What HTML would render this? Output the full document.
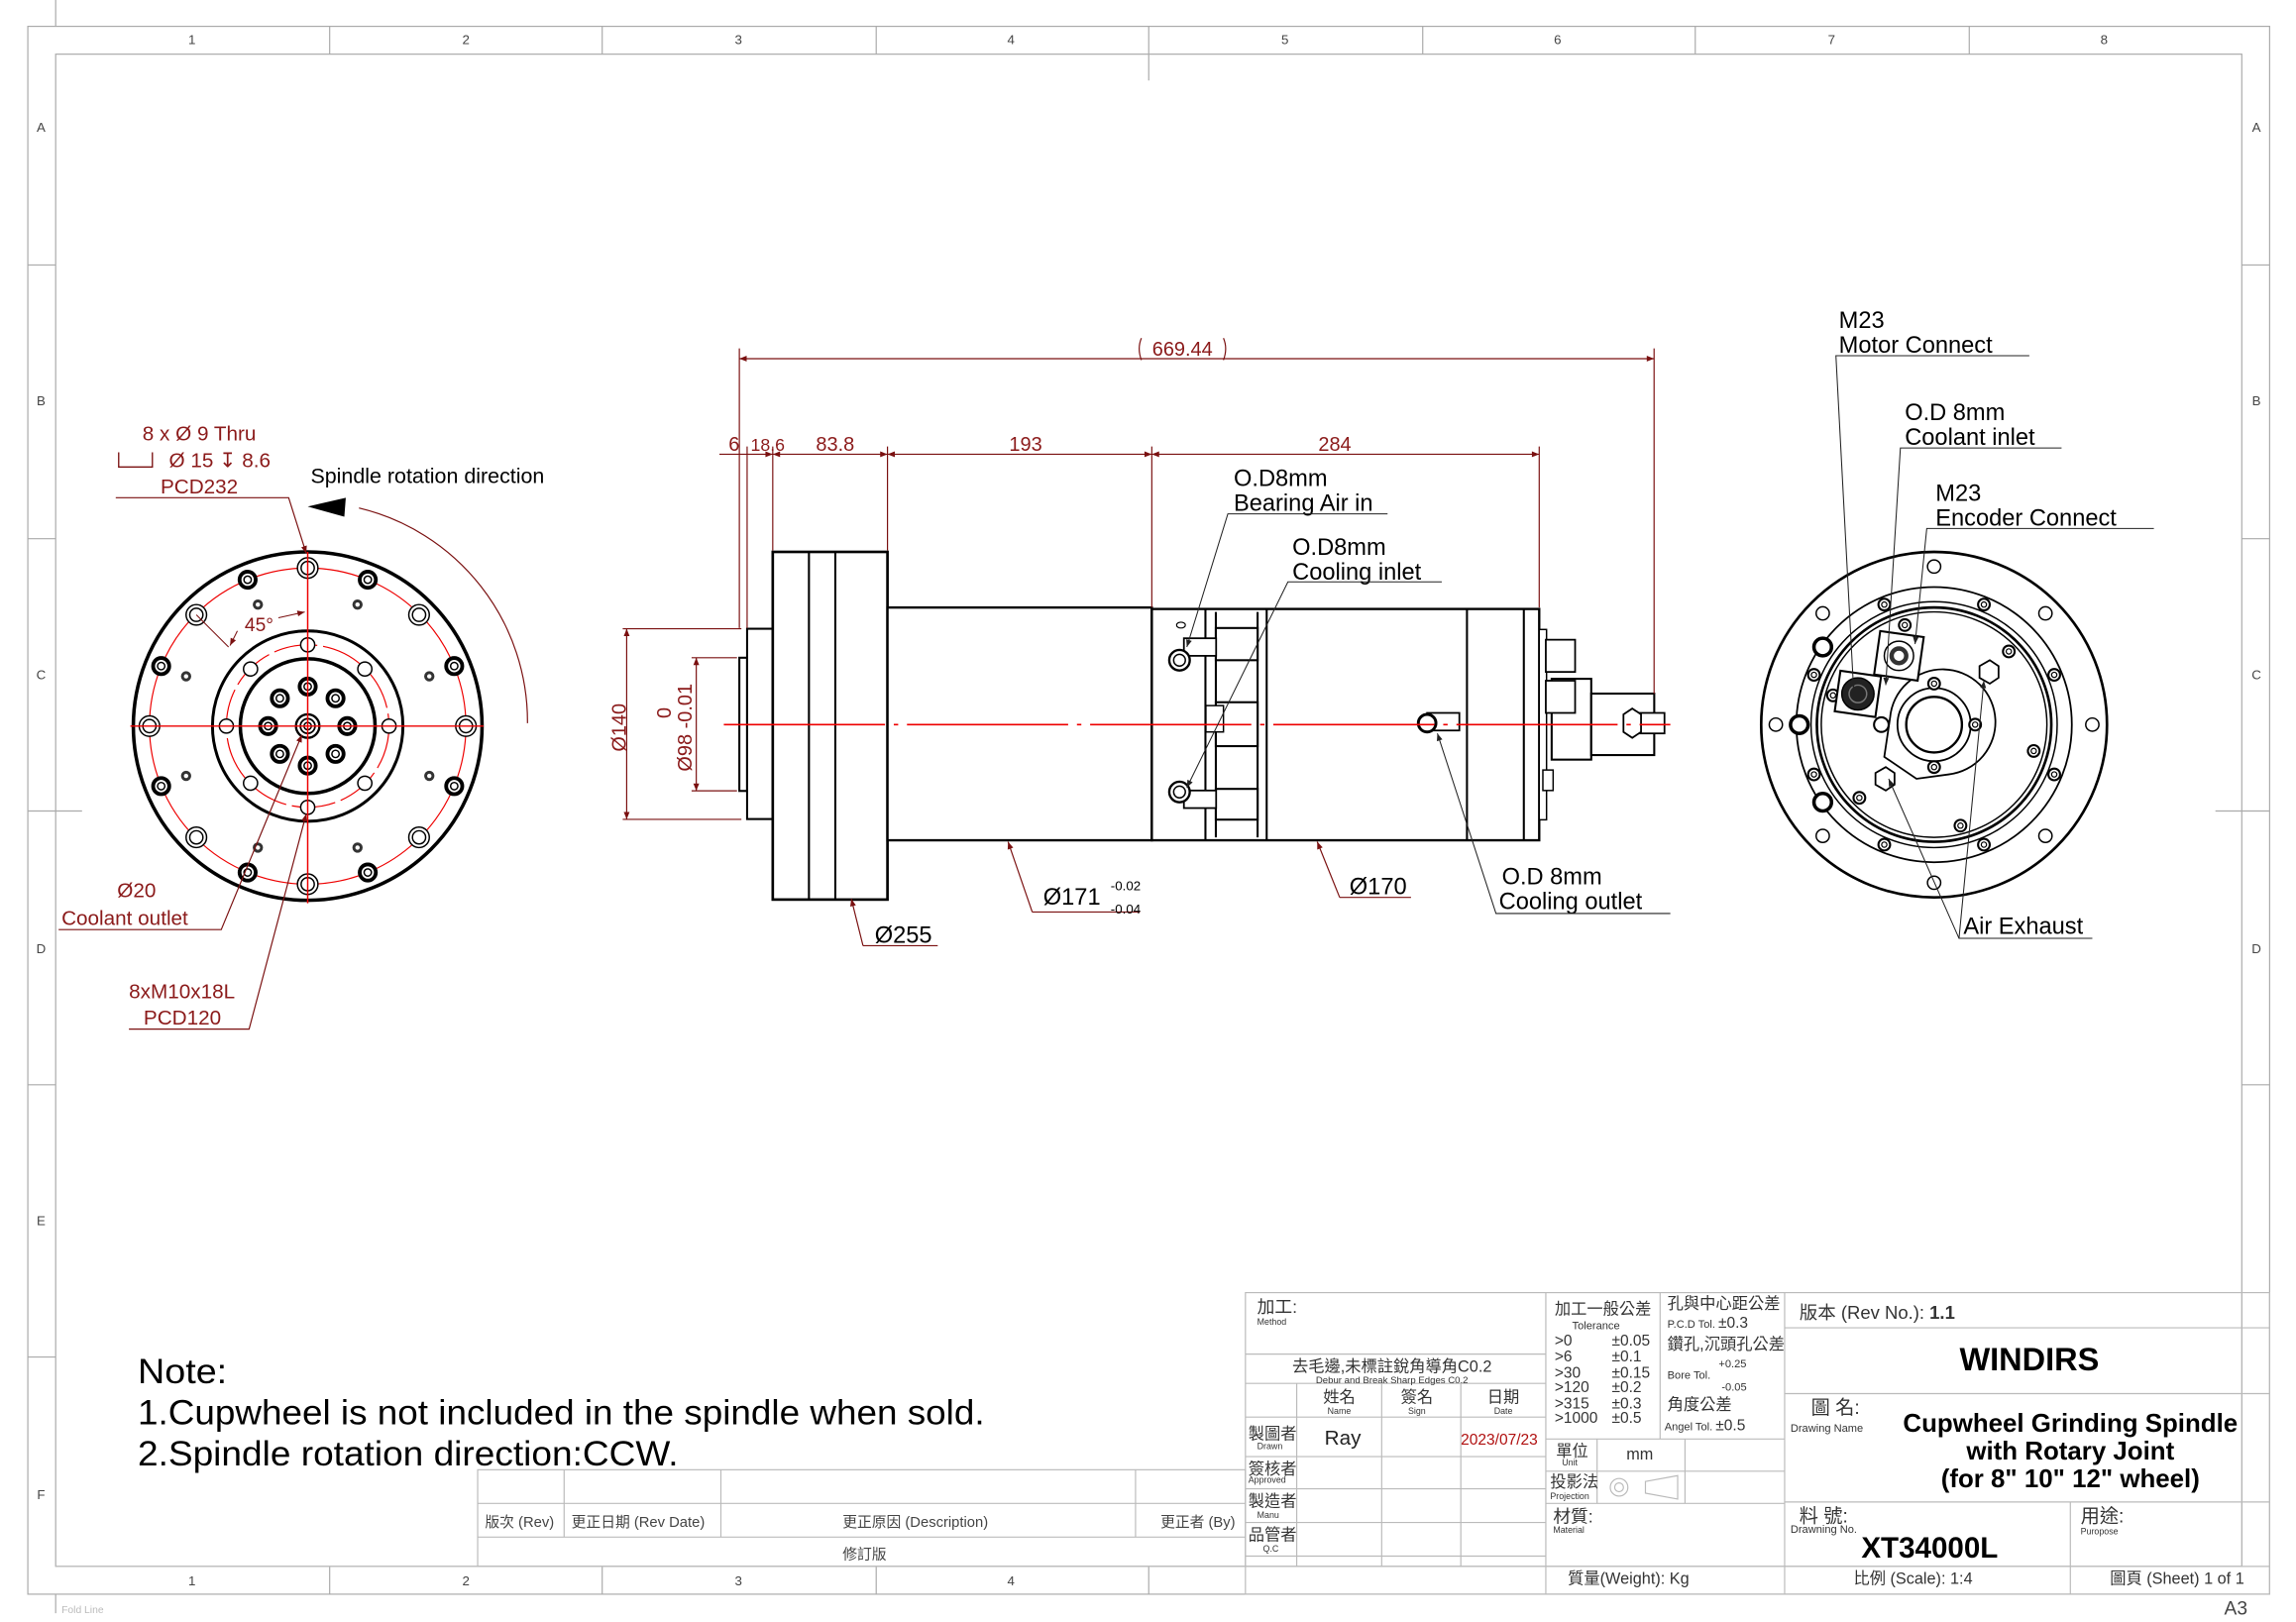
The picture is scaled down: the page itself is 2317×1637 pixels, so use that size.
<!DOCTYPE html>
<html><head><meta charset="utf-8"><style>
html,body{margin:0;padding:0;background:#fff;}
svg{display:block;}
text{font-family:"Liberation Sans","Noto Sans CJK TC",sans-serif;}
.r{fill:#8b1a1a;}
.g{stroke:#aaa;fill:none;stroke-width:.8}
</style></head><body>
<svg width="2317" height="1637" viewBox="0 0 1567 1108" preserveAspectRatio="none" xmlns="http://www.w3.org/2000/svg">
<defs>
<marker id="ar" viewBox="0 0 10 10" refX="10" refY="5" markerWidth="7" markerHeight="5" orient="auto-start-reverse" markerUnits="userSpaceOnUse"><path d="M0,1 L10,5 L0,9z" fill="#7a1010"/></marker>
<marker id="ak" viewBox="0 0 10 10" refX="10" refY="5" markerWidth="7" markerHeight="5" orient="auto" markerUnits="userSpaceOnUse"><path d="M0,1 L10,5 L0,9z" fill="#222"/></marker>
<g id="dh"><circle r="7" fill="#fff" stroke="#000" stroke-width="1"/><circle r="4.5" fill="none" stroke="#000" stroke-width="1"/></g>
<g id="th"><circle r="5.5" fill="#fff" stroke="#000" stroke-width="2.6"/><circle r="2.5" fill="none" stroke="#000" stroke-width="1"/></g>
<g id="sd"><circle r="3.5" fill="#333"/><circle r="1.5" fill="#fff"/></g>
<g id="sh"><circle r="4.8" fill="#fff" stroke="#000" stroke-width="1"/></g>
<g id="bb"><circle r="4" fill="#fff" stroke="#000" stroke-width="1.4"/><circle r="1.8" fill="none" stroke="#000" stroke-width=".8"/></g>
</defs>

<rect x="19" y="18" width="1530" height="1071" class="g"/>
<rect x="38" y="37" width="1492" height="1033" class="g"/>
<line x1="38" y1="0" x2="38" y2="18" class="g"/><line x1="38" y1="1089" x2="38" y2="1102" class="g"/>
<g class="g">
<line x1="225" y1="18" x2="225" y2="37"/><line x1="411" y1="18" x2="411" y2="37"/><line x1="598" y1="18" x2="598" y2="37"/><line x1="784" y1="18" x2="784" y2="55"/><line x1="971" y1="18" x2="971" y2="37"/><line x1="1157" y1="18" x2="1157" y2="37"/><line x1="1344" y1="18" x2="1344" y2="37"/>
<line x1="225" y1="1070" x2="225" y2="1089"/><line x1="411" y1="1070" x2="411" y2="1089"/><line x1="598" y1="1070" x2="598" y2="1089"/><line x1="784" y1="1070" x2="784" y2="1089"/>
<line x1="19" y1="181" x2="38" y2="181"/><line x1="19" y1="368" x2="38" y2="368"/><line x1="19" y1="554" x2="56" y2="554"/><line x1="19" y1="741" x2="38" y2="741"/><line x1="19" y1="927" x2="38" y2="927"/>
<line x1="1530" y1="181" x2="1549" y2="181"/><line x1="1530" y1="368" x2="1549" y2="368"/><line x1="1512" y1="554" x2="1549" y2="554"/><line x1="1530" y1="741" x2="1549" y2="741"/>
</g>
<g font-size="9" fill="#444" text-anchor="middle">
<text x="131" y="30">1</text><text x="318" y="30">2</text><text x="504" y="30">3</text><text x="690" y="30">4</text><text x="877" y="30">5</text><text x="1063" y="30">6</text><text x="1250" y="30">7</text><text x="1436" y="30">8</text>
<text x="131" y="1083">1</text><text x="318" y="1083">2</text><text x="504" y="1083">3</text><text x="690" y="1083">4</text>
<text x="28" y="90">A</text><text x="28" y="277">B</text><text x="28" y="464">C</text><text x="28" y="651">D</text><text x="28" y="837">E</text><text x="28" y="1024">F</text>
<text x="1540" y="90">A</text><text x="1540" y="277">B</text><text x="1540" y="464">C</text><text x="1540" y="651">D</text>
</g>
<text x="42" y="1102" font-size="7" fill="#bbb">Fold Line</text>
<text x="1518" y="1103" font-size="13" fill="#444">A3</text>

<g transform="translate(210,496)">
<circle r="119" fill="none" stroke="#000" stroke-width="2.4"/>
<circle r="108" fill="none" stroke="#e00" stroke-width=".8"/>
<circle r="65" fill="none" stroke="#000" stroke-width="2"/>
<circle r="55.5" fill="none" stroke="#e00" stroke-width=".8" stroke-dasharray="30 4"/>
<circle r="46" fill="none" stroke="#000" stroke-width="2.4"/>
<use href="#dh" x="108" y="0"/><use href="#dh" x="-108" y="0"/><use href="#dh" x="0" y="-108"/><use href="#dh" x="0" y="108"/>
<use href="#dh" x="76" y="-76"/><use href="#dh" x="-76" y="-76"/><use href="#dh" x="76" y="76"/><use href="#dh" x="-76" y="76"/>
<use href="#th" x="41" y="-100"/><use href="#th" x="-41" y="-100"/><use href="#th" x="41" y="100"/><use href="#th" x="-41" y="100"/>
<use href="#th" x="100" y="-41"/><use href="#th" x="-100" y="-41"/><use href="#th" x="100" y="41"/><use href="#th" x="-100" y="41"/>
<use href="#sd" x="83" y="-34"/><use href="#sd" x="-83" y="-34"/><use href="#sd" x="83" y="34"/><use href="#sd" x="-83" y="34"/>
<use href="#sd" x="34" y="-83"/><use href="#sd" x="-34" y="-83"/><use href="#sd" x="34" y="83"/><use href="#sd" x="-34" y="83"/>
<use href="#sh" x="55.5" y="0"/><use href="#sh" x="-55.5" y="0"/><use href="#sh" x="0" y="55.5"/><use href="#sh" x="0" y="-55.5"/>
<use href="#sh" x="39" y="39"/><use href="#sh" x="-39" y="39"/><use href="#sh" x="39" y="-39"/><use href="#sh" x="-39" y="-39"/>
<use href="#th" x="27" y="0"/><use href="#th" x="-27" y="0"/><use href="#th" x="0" y="27"/><use href="#th" x="0" y="-27"/>
<use href="#th" x="19" y="19"/><use href="#th" x="-19" y="19"/><use href="#th" x="19" y="-19"/><use href="#th" x="-19" y="-19"/>
<circle r="8" fill="#fff" stroke="#000" stroke-width="1.6"/><circle r="5" fill="none" stroke="#000" stroke-width="1.2"/><circle r="2.5" fill="none" stroke="#000"/>
<line x1="-121" y1="0" x2="120" y2="0" stroke="#e00" stroke-width="1"/>
<line x1="0" y1="-119" x2="0" y2="121" stroke="#e00" stroke-width="1"/>
<line x1="-76" y1="-76" x2="-54" y2="-54" stroke="#7a1010" stroke-width=".7"/>
</g>
<text x="167" y="431" class="r" font-size="13">45°</text>
<path d="M190,422 L208,418" stroke="#7a1010" stroke-width=".7" fill="none" marker-end="url(#ar)"/>
<path d="M162,431 L157,441" stroke="#7a1010" stroke-width=".7" fill="none" marker-end="url(#ar)"/>
<path d="M245,347 A150 150 0 0 1 360,494" fill="none" stroke="#7a1010" stroke-width=".8"/>
<path d="M210,346 L236,340 L235,353z" fill="#000"/>
<text x="212" y="330" font-size="14.5" fill="#000">Spindle rotation direction</text>
<g class="r" font-size="14" text-anchor="middle">
<text x="136" y="301">8 x  Ø 9 Thru</text>
<text x="150" y="319">Ø 15 ↧ 8.6</text>
<text x="136" y="337">PCD232</text>
</g>
<path d="M81,309 V319 H104 V309" fill="none" stroke="#7a1010" stroke-width=".9"/>
<path d="M79,340 H197 L209,378" fill="none" stroke="#7a1010" stroke-width=".8" marker-end="url(#ar)"/>
<text x="80" y="613" class="r" font-size="14">Ø20</text>
<text x="42" y="632" class="r" font-size="14">Coolant outlet</text>
<path d="M40,635 H151 L206,502" fill="none" stroke="#7a1010" stroke-width=".8" marker-end="url(#ar)"/>
<text x="88" y="682" class="r" font-size="14">8xM10x18L</text>
<text x="98" y="700" class="r" font-size="14">PCD120</text>
<path d="M88,703 H170 L209,556" fill="none" stroke="#7a1010" stroke-width=".8" marker-end="url(#ar)"/>

<g stroke="#000" fill="#fff" stroke-width="1.4">
<rect x="504.6" y="449.3" width="5.3" height="91"/>
<rect x="509.9" y="429.5" width="17.5" height="130"/>
<rect x="527.4" y="377" width="78.3" height="237.5" stroke-width="1.8"/>
<line x1="552.1" y1="377" x2="552.1" y2="614.5"/><line x1="570.1" y1="377" x2="570.1" y2="614.5"/>
<rect x="605.7" y="415" width="180.4" height="159" stroke-width="1.6"/>
<rect x="786.1" y="416" width="264.4" height="158" stroke-width="1.6"/>
<line x1="822.7" y1="416" x2="822.7" y2="574"/><line x1="829.8" y1="418" x2="829.8" y2="572"/>
<line x1="858.3" y1="418" x2="858.3" y2="572"/><line x1="864.5" y1="416" x2="864.5" y2="574"/>
<line x1="1001.2" y1="416" x2="1001.2" y2="574"/><line x1="1040" y1="416" x2="1040" y2="574"/>
<rect x="829.8" y="429" width="28.5" height="22"/><rect x="829.8" y="479.7" width="28.5" height="30"/><rect x="829.8" y="538.9" width="28.5" height="21"/>
<rect x="1050.5" y="430" width="5" height="130" stroke-width="1"/>
<rect x="1059" y="463.7" width="27" height="55.2"/>
<rect x="1086" y="473.8" width="43" height="42"/>
<rect x="1055" y="437" width="20" height="22" stroke-width="1.2"/><rect x="1055" y="465" width="20" height="22" stroke-width="1.2"/>
<rect x="1053" y="526" width="7" height="14" stroke-width="1"/>
<rect x="1118" y="487" width="18" height="14" stroke-width="1.2"/>
<path d="M1108,488 L1114,484 L1120,488 L1120,500 L1114,504 L1108,500z" stroke-width="1.2"/>
<rect x="823" y="482" width="12" height="18" stroke-width="1"/>
<rect x="974" y="487" width="22" height="12" stroke-width="1.2"/><circle cx="974" cy="494" r="6" stroke-width="2"/>
<rect x="808" y="436" width="22" height="12" stroke-width="1.2"/><circle cx="805" cy="451" r="7" stroke-width="1.6"/><circle cx="805" cy="451" r="4" stroke-width="1"/>
<rect x="808" y="540" width="22" height="12" stroke-width="1.2"/><circle cx="805" cy="541" r="7" stroke-width="1.6"/><circle cx="805" cy="541" r="4" stroke-width="1"/>
</g>
<ellipse cx="806" cy="427" rx="3" ry="2" fill="none" stroke="#000" stroke-width=".8"/>
<line x1="494" y1="495" x2="1140" y2="495" stroke="#e00" stroke-width="1.1" stroke-dasharray="110 6 3 6"/>
<g stroke="#7a1010" stroke-width=".8" fill="none">
<line x1="504.6" y1="238" x2="504.6" y2="429"/><line x1="509.9" y1="305" x2="509.9" y2="429"/><line x1="527.4" y1="305" x2="527.4" y2="376"/>
<line x1="605.7" y1="305" x2="605.7" y2="376"/><line x1="786.1" y1="305" x2="786.1" y2="415"/><line x1="1050.5" y1="305" x2="1050.5" y2="415"/>
<line x1="1128.9" y1="238" x2="1128.9" y2="474"/>
<line x1="504.6" y1="245" x2="1128.9" y2="245" marker-start="url(#ar)" marker-end="url(#ar)"/>
<line x1="491" y1="310.3" x2="509.9" y2="310.3"/>
<line x1="509.9" y1="310.3" x2="527.4" y2="310.3" marker-end="url(#ar)"/>
<line x1="527.4" y1="310.3" x2="605.7" y2="310.3" marker-start="url(#ar)" marker-end="url(#ar)"/>
<line x1="605.7" y1="310.3" x2="786.1" y2="310.3" marker-start="url(#ar)" marker-end="url(#ar)"/>
<line x1="786.1" y1="310.3" x2="1050.5" y2="310.3" marker-start="url(#ar)" marker-end="url(#ar)"/>
<line x1="427.7" y1="429.5" x2="427.7" y2="559.7" marker-start="url(#ar)" marker-end="url(#ar)"/>
<line x1="425" y1="429.5" x2="506" y2="429.5"/><line x1="425" y1="559.7" x2="506" y2="559.7"/>
<line x1="475.2" y1="449.3" x2="475.2" y2="540.2" marker-start="url(#ar)" marker-end="url(#ar)"/>
<line x1="472" y1="449.3" x2="503" y2="449.3"/><line x1="472" y1="540.2" x2="503" y2="540.2"/>
<path d="M704.5,623 L688,575" marker-end="url(#ar)"/><line x1="704.5" y1="623" x2="778" y2="623"/>
<path d="M914.3,613 L899,575" marker-end="url(#ar)"/><line x1="914.3" y1="613" x2="963" y2="613"/>
<path d="M589,646 L581,614" marker-end="url(#ar)"/><line x1="589" y1="646" x2="640" y2="646"/>
</g>
<path d="M779,231 Q776,238 779,246 M835,231 Q838,238 835,246" fill="none" stroke="#7a1010" stroke-width=".8"/>
<g class="r" font-size="13.5" text-anchor="middle">
<text x="807" y="243">669.44</text>
<text x="501" y="308">6</text><text x="524" y="308" font-size="12">18.6</text><text x="570" y="308">83.8</text><text x="700" y="308">193</text><text x="911" y="308">284</text>
<text transform="translate(427,497) rotate(-90)">Ø140</text>
<text transform="translate(472,497) rotate(-90)">Ø98 -0.01</text>
<text transform="translate(458,487) rotate(-90)">0</text>
</g>
<g fill="#000" font-size="16">
<text x="712" y="618">Ø171</text><text x="758" y="608" font-size="9">-0.02</text><text x="758" y="624" font-size="9">-0.04</text>
<text x="921" y="611">Ø170</text>
<text x="597" y="644">Ø255</text>
<text x="842" y="332">O.D8mm</text><text x="842" y="349">Bearing Air in</text>
<text x="882" y="379">O.D8mm</text><text x="882" y="396">Cooling inlet</text>
<text x="1025" y="604">O.D 8mm</text><text x="1023" y="621">Cooling outlet</text>
</g>
<g stroke="#222" stroke-width=".7" fill="none">
<path d="M947,351 H838 L810,442" marker-end="url(#ak)"/>
<path d="M984,397.5 H879 L810,538" marker-end="url(#ak)"/>
<path d="M1140,624 H1021 L981,501" marker-end="url(#ak)"/>
</g>

<g transform="translate(1320,495)">
<circle r="118" fill="none" stroke="#000" stroke-width="1.8"/>
<circle r="94" fill="none" stroke="#000" stroke-width="1.2"/>
<circle r="84" fill="none" stroke="#000" stroke-width="1"/>
<circle r="80" fill="none" stroke="#000" stroke-width="1.8"/>
<circle r="77" fill="none" stroke="#000" stroke-width="1"/>
<circle cx="0" cy="-108" r="4.5" fill="#fff" stroke="#000"/><circle cx="0" cy="108" r="4.5" fill="#fff" stroke="#000"/>
<circle cx="108" cy="0" r="4.5" fill="#fff" stroke="#000"/><circle cx="-108" cy="0" r="4.5" fill="#fff" stroke="#000"/>
<circle cx="76" cy="-76" r="4.5" fill="#fff" stroke="#000"/><circle cx="-76" cy="-76" r="4.5" fill="#fff" stroke="#000"/>
<circle cx="76" cy="76" r="4.5" fill="#fff" stroke="#000"/><circle cx="-76" cy="76" r="4.5" fill="#fff" stroke="#000"/>
<use href="#bb" x="-34" y="-82"/><use href="#bb" x="34" y="-82"/><use href="#bb" x="82" y="-34"/><use href="#bb" x="82" y="34"/>
<use href="#bb" x="-82" y="-34"/><use href="#bb" x="-82" y="34"/><use href="#bb" x="-34" y="82"/><use href="#bb" x="34" y="82"/>
<use href="#bb" x="-20" y="-68"/><use href="#bb" x="51" y="-50"/><use href="#bb" x="68" y="18"/><use href="#bb" x="18" y="69"/><use href="#bb" x="-51" y="50"/><use href="#bb" x="-69" y="-20"/>
<path d="M-30,-5 A36 36 0 1 1 10,34 L-12,37 L-34,22 Z" fill="#fff" stroke="#000" stroke-width="1.2"/>
<circle r="25" fill="none" stroke="#000" stroke-width="1.2"/>
<circle r="19" fill="#fff" stroke="#000" stroke-width="1.6"/>
<use href="#bb" x="0" y="-28"/><use href="#bb" x="0" y="29"/><use href="#bb" x="28" y="0"/>
<circle cx="-36" cy="0" r="5" fill="#fff" stroke="#000" stroke-width="1.4"/>
<rect x="-39" y="-62" width="30" height="30" fill="#fff" stroke="#000" stroke-width="1.4" transform="rotate(8 -24 -47)"/>
<circle cx="-24" cy="-47" r="10" fill="#fff" stroke="#000" stroke-width="1"/><circle cx="-24" cy="-47" r="5" fill="none" stroke="#333" stroke-width="3"/>
<rect x="-66" y="-35" width="28" height="28" fill="#fff" stroke="#000" stroke-width="1.4" transform="rotate(8 -52 -21)"/>
<circle cx="-52" cy="-21" r="11" fill="#222" stroke="#000"/><circle cx="-52" cy="-21" r="6" fill="none" stroke="#777" stroke-width="1"/>
<path d="M31,-40 L38,-44 L44,-40 L44,-32 L38,-28 L31,-32z" fill="#fff" stroke="#000" stroke-width="1.2"/>
<path d="M-40,33 L-33,29 L-27,33 L-27,41 L-33,45 L-40,41z" fill="#fff" stroke="#000" stroke-width="1.2"/>
<circle cx="-76" cy="-53" r="6" fill="#fff" stroke="#000" stroke-width="2.4"/><circle cx="-92" cy="0" r="6" fill="#fff" stroke="#000" stroke-width="2.4"/><circle cx="-76" cy="53" r="6" fill="#fff" stroke="#000" stroke-width="2.4"/>
</g>
<g fill="#000" font-size="16">
<text x="1255" y="224">M23</text><text x="1255" y="241">Motor Connect</text>
<text x="1300" y="287">O.D 8mm</text><text x="1300" y="304">Coolant inlet</text>
<text x="1321" y="342">M23</text><text x="1321" y="359">Encoder Connect</text>
<text x="1340" y="638">Air Exhaust</text>
</g>
<g stroke="#222" stroke-width=".7" fill="none">
<path d="M1385,243 H1253 L1265,470" marker-end="url(#ak)"/>
<path d="M1407,306 H1297 L1287,468" marker-end="url(#ak)"/>
<path d="M1470,361 H1315 L1307,440" marker-end="url(#ak)"/>
<path d="M1428,641 H1337 L1289,532" marker-end="url(#ak)"/>
<path d="M1337,641 L1354,465" marker-end="url(#ak)"/>
</g>

<g fill="#000" font-size="24">
<text x="94" y="945" textLength="61" lengthAdjust="spacingAndGlyphs">Note:</text>
<text x="94" y="973" textLength="578" lengthAdjust="spacingAndGlyphs">1.Cupwheel is not included in the spindle when sold.</text>
<text x="94" y="1001" textLength="369" lengthAdjust="spacingAndGlyphs">2.Spindle rotation direction:CCW.</text>
</g>

<g stroke="#bbb" stroke-width=".8" fill="none">
<rect x="326" y="1004" width="524" height="66"/>
<line x1="326" y1="1027" x2="850" y2="1027"/><line x1="326" y1="1050" x2="850" y2="1050"/>
<line x1="385" y1="1004" x2="385" y2="1050"/><line x1="492" y1="1004" x2="492" y2="1050"/><line x1="775" y1="1004" x2="775" y2="1050"/>
</g>
<g fill="#444" font-size="10">
<text x="331" y="1043">版次 (Rev)</text><text x="390" y="1043">更正日期 (Rev Date)</text><text x="575" y="1043">更正原因 (Description)</text><text x="792" y="1043">更正者 (By)</text>
<text x="575" y="1065">修訂版</text>
</g>

<g stroke="#bbb" stroke-width=".8" fill="none">
<rect x="850" y="883" width="699" height="206"/>
<line x1="850" y1="925" x2="1055" y2="925"/><line x1="850" y1="945" x2="1055" y2="945"/><line x1="850" y1="968" x2="1055" y2="968"/>
<line x1="850" y1="995" x2="1055" y2="995"/><line x1="850" y1="1017" x2="1055" y2="1017"/><line x1="850" y1="1040" x2="1055" y2="1040"/><line x1="850" y1="1063" x2="1055" y2="1063"/>
<line x1="885" y1="945" x2="885" y2="1070"/><line x1="943" y1="945" x2="943" y2="1070"/><line x1="997" y1="945" x2="997" y2="1070"/>
<line x1="1055" y1="883" x2="1055" y2="1089"/><line x1="1133" y1="883" x2="1133" y2="983"/><line x1="1218" y1="883" x2="1218" y2="1089"/>
<line x1="1055" y1="983" x2="1218" y2="983"/><line x1="1055" y1="1005" x2="1218" y2="1005"/><line x1="1055" y1="1027" x2="1218" y2="1027"/>
<line x1="1090" y1="983" x2="1090" y2="1027"/><line x1="1150" y1="983" x2="1150" y2="1027"/>
<line x1="1218" y1="907" x2="1549" y2="907"/><line x1="1218" y1="952" x2="1549" y2="952"/><line x1="1218" y1="1026" x2="1549" y2="1026"/>
<line x1="1413" y1="1026" x2="1413" y2="1089"/><line x1="38" y1="1070" x2="1549" y2="1070"/>
<circle cx="1105" cy="1016" r="6"/><circle cx="1105" cy="1016" r="3"/><path d="M1123,1012 L1145,1008 L1145,1024 L1123,1020z"/>
</g>
<g fill="#333" font-size="11">
<text x="858" y="897" font-size="12">加工:</text><text x="858" y="905" font-size="6">Method</text>
<text x="950" y="937" text-anchor="middle">去毛邊,未標註銳角導角C0.2</text><text x="950" y="945" text-anchor="middle" font-size="6.5">Debur and Break Sharp Edges C0.2</text>
<text x="914" y="958" text-anchor="middle">姓名</text><text x="914" y="966" text-anchor="middle" font-size="6">Name</text>
<text x="967" y="958" text-anchor="middle">簽名</text><text x="967" y="966" text-anchor="middle" font-size="6">Sign</text>
<text x="1026" y="958" text-anchor="middle">日期</text><text x="1026" y="966" text-anchor="middle" font-size="6">Date</text>
<text x="852" y="983">製圖者</text><text x="858" y="990" font-size="6">Drawn</text>
<text x="904" y="987" font-size="14" fill="#222">Ray</text><text x="997" y="987" font-size="10.5" fill="#b01010">2023/07/23</text>
<text x="852" y="1007">簽核者</text><text x="852" y="1013" font-size="6">Approved</text>
<text x="852" y="1029">製造者</text><text x="858" y="1037" font-size="6">Manu</text>
<text x="852" y="1052">品管者</text><text x="862" y="1060" font-size="6">Q.C</text>
<text x="1061" y="898">加工一般公差</text><text x="1073" y="908" font-size="7.5">Tolerance</text>
<g font-size="10.5"><text x="1061" y="919">&gt;0</text><text x="1100" y="919">±0.05</text>
<text x="1061" y="930">&gt;6</text><text x="1100" y="930">±0.1</text>
<text x="1061" y="941">&gt;30</text><text x="1100" y="941">±0.15</text>
<text x="1061" y="951">&gt;120</text><text x="1100" y="951">±0.2</text>
<text x="1061" y="962">&gt;315</text><text x="1100" y="962">±0.3</text>
<text x="1061" y="972">&gt;1000</text><text x="1100" y="972">±0.5</text></g>
<text x="1138" y="894">孔與中心距公差</text><text x="1138" y="907" font-size="7.5">P.C.D Tol. <tspan font-size="10.5">±0.3</tspan></text>
<text x="1138" y="922">鑽孔,沉頭孔公差</text><text x="1173" y="934" font-size="7.5">+0.25</text><text x="1138" y="942" font-size="7.5">Bore Tol.</text><text x="1175" y="950" font-size="7.5">-0.05</text>
<text x="1138" y="963">角度公差</text><text x="1136" y="977" font-size="7.5">Angel Tol. <tspan font-size="10.5">±0.5</tspan></text>
<text x="1062" y="995">單位</text><text x="1066" y="1001" font-size="6">Unit</text><text x="1110" y="997">mm</text>
<text x="1058" y="1016">投影法</text><text x="1058" y="1024" font-size="6">Projection</text>
<text x="1060" y="1040" font-size="12">材質:</text><text x="1060" y="1047" font-size="6">Material</text>
<text x="1228" y="901" font-size="12.5">版本 (Rev No.): <tspan font-weight="bold">1.1</tspan></text>
<text x="1385" y="936" font-size="22" font-weight="bold" fill="#000" text-anchor="middle">WINDIRS</text>
<text x="1236" y="966" font-size="13">圖 名:</text><text x="1222" y="978" font-size="7.5">Drawing Name</text>
<g font-size="17.5" font-weight="bold" fill="#000" text-anchor="middle"><text x="1413" y="978">Cupwheel Grinding Spindle</text><text x="1413" y="997">with Rotary Joint</text><text x="1413" y="1016">(for 8" 10" 12" wheel)</text></g>
<text x="1228" y="1040" font-size="13">料 號:</text><text x="1222" y="1047" font-size="7.5">Drawning No.</text>
<text x="1317" y="1064" font-size="20" font-weight="bold" fill="#000" text-anchor="middle">XT34000L</text>
<text x="1420" y="1040" font-size="13">用途:</text><text x="1420" y="1048" font-size="6">Puropose</text>
<text x="1070" y="1082">質量(Weight):  Kg</text><text x="1265" y="1082">比例 (Scale): 1:4</text><text x="1440" y="1082">圖頁 (Sheet) 1 of 1</text>
</g>
</svg>
</body></html>
